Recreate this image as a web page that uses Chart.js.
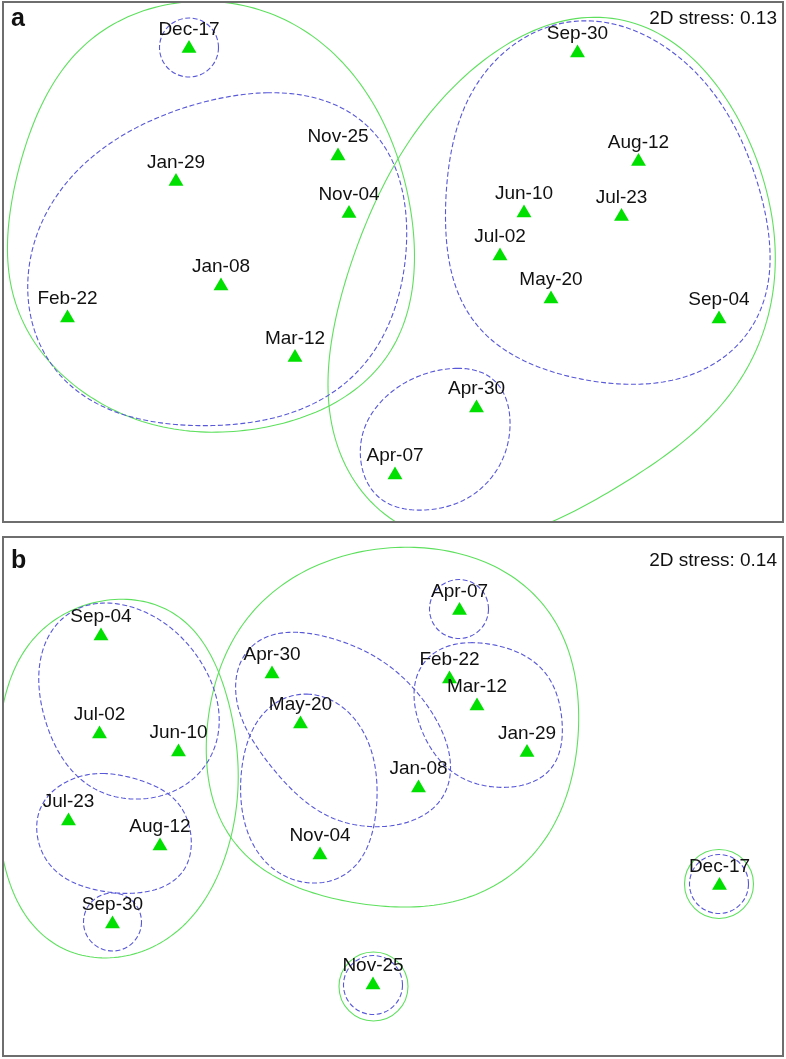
<!DOCTYPE html>
<html>
<head>
<meta charset="utf-8">
<script src="https://cdn.jsdelivr.net/npm/chart.js@4.4.1/dist/chart.umd.min.js"></script>
<style>
    html, body { margin: 0; padding: 0; background: #fff; }
    body { width: 786px; height: 1059px; position: relative; overflow: hidden; }
    .panel { position: absolute; left: 2px; width: 782px; border: 2px solid #6e6e6e; box-sizing: border-box; }
    #panelA { top: 1px; height: 522px; }
    #panelB { top: 536px; height: 521px; }
    .panel canvas { display: block; }
</style>
</head>
<body>
<div class="panel" id="panelA"><canvas id="chartA" width="778" height="518"></canvas></div>
<div class="panel" id="panelB"><canvas id="chartB" width="778" height="517"></canvas></div>
<script>
// MDS ordination of sampling dates, two panels (a, b)
// - points: sampling dates
// - overlays: cluster contours (green solid = lower similarity, blue dashed = higher)

const dates = ['Nov-04','Nov-25','Dec-17','Jan-08','Jan-29','Feb-22','Mar-12','Apr-07',
               'Apr-30','May-20','Jun-10','Jul-02','Jul-23','Aug-12','Sep-04','Sep-30'];

// panel a coordinates (same order as dates)
const xA = [349, 338, 189, 221, 176, 67.5, 295, 395, 476.5, 551, 524, 500, 621.5, 638.5, 719, 577.5];
const yA = [213.5, 156, 48.5, 286, 181.5, 318, 357.5, 475, 408, 299, 213, 256, 216.5, 161.5, 319, 53];

// panel b coordinates
const xB = [320, 373, 719.5, 418.5, 527, 449.5, 477, 459.5, 272, 300.5, 178.5, 99.5, 68.5, 160, 101, 112.5];
const yB = [855, 985, 885.5, 788, 752.5, 679, 706, 610.5, 674, 724, 752, 734, 821, 846, 636, 924];

// axis ranges of each panel
const rangeA = { xMin: 4, xMax: 782, yMin: 3, yMax: 521 };
const rangeB = { xMin: 4, xMax: 782, yMin: 538, yMax: 1055 };

const stressA = '2D stress: 0.13';
const stressB = '2D stress: 0.14';

// cluster outlines, panel a
const greenA = [
    [[133,13],[200,1],[260,7],[310,33],[363,83],[388,133],[408,190],[415,235],[411,290],[400,343],[367,383],[300,418],[245,432],[200,434],[150,425],[100,402],[50,367],[20,317],[6,260],[8,210],[22,160],[40,110],[62,67],[95,33]],
    [[587,15],[653,27],[703,67],[743,127],[767,187],[777,253],[775,293],[763,333],[737,383],[697,433],[637,477],[553,521],[480,545],[420,535],[395,522],[367,497],[340,463],[330,413],[328,380],[333,333],[348,267],[377,200],[400,150],[453,87],[503,47],[547,23]]
];
const blueA = [
    [[267,92],[300,95],[333,103],[367,123],[390,153],[403,193],[407,230],[405,267],[393,317],[370,360],[333,393],[283,417],[233,425],[200,426],[150,422],[100,407],[60,377],[37,340],[27,300],[28,267],[43,217],[73,173],[110,143],[157,117],[207,100]],
    [[597,20],[637,30],[680,57],[720,100],[750,157],[767,217],[770,267],[763,307],[747,337],[720,360],[687,377],[647,385],[603,383],[553,373],[510,353],[477,330],[457,293],[447,243],[445,197],[450,150],[467,100],[497,57],[537,30],[567,22]],
    [[457,368],[487,373],[503,390],[511,420],[507,450],[493,477],[467,500],[433,510],[407,510],[380,500],[367,483],[360,460],[362,433],[373,410],[397,387],[427,372]]
];
const greenRingsA = [];
const blueRingsA = [[189, 47.5, 29.5]];

// cluster outlines, panel b
const greenB = [
    [[110,598],[150,603],[187,620],[208,647],[224,690],[236,735],[240,777],[233,827],[220,873],[197,913],[167,940],[127,957],[93,958],[57,947],[27,920],[8,880],[-2,830],[-5,780],[0,730],[5,693],[20,653],[50,623],[80,607]],
    [[380,546],[430,549],[480,558],[530,588],[557,623],[573,667],[580,707],[577,757],[563,807],[540,847],[507,880],[463,900],[413,908],[365,905],[310,893],[265,870],[240,853],[217,815],[206,770],[208,730],[213,690],[226,650],[250,612],[285,583],[330,560]]
];
const blueB = [
    [[100,602],[133,607],[167,623],[193,650],[213,683],[220,717],[215,750],[197,777],[167,795],[133,800],[100,793],[73,773],[53,743],[42,710],[38,677],[43,647],[57,623],[77,608]],
    [[103,772],[140,780],[170,793],[187,817],[192,840],[187,867],[170,885],[140,893],[107,893],[73,883],[50,867],[37,840],[38,810],[53,790],[77,777]],
    [[300,632],[340,640],[377,657],[410,683],[433,713],[448,747],[452,777],[440,803],[410,823],[373,827],[343,823],[310,807],[277,773],[250,740],[237,703],[237,667],[253,643],[277,633]],
    [[307,693],[333,700],[357,720],[373,753],[378,793],[373,833],[357,867],[330,882],[307,883],[280,875],[257,853],[243,820],[240,780],[247,740],[263,713],[283,698]],
    [[470,642],[507,647],[537,663],[557,690],[563,730],[558,760],[540,780],[507,788],[477,785],[453,773],[433,753],[420,727],[413,697],[417,673],[433,653],[450,645]]
];
const greenRingsB = [[719, 884, 34.5], [373.5, 986.5, 34.5]];
const blueRingsB = [[112.5, 922, 29], [459, 609, 29.5], [719, 884, 29.5], [373, 985, 29.5]];

const POINT_GREEN = '#00e000';
const LINE_GREEN = '#5ee05e';
const LINE_BLUE = '#5858d8';
const FONT = '"Liberation Sans", Arial, Helvetica, sans-serif';

// resample a closed outline evenly along its length
function resample(pts, n) {
    const seg = [];
    let total = 0;
    for (let i = 0; i < pts.length; i++) {
        const a = pts[i], b = pts[(i + 1) % pts.length];
        const len = Math.hypot(b.x - a.x, b.y - a.y);
        seg.push(len);
        total += len;
    }
    const out = [];
    let i = 0, acc = 0;
    for (let j = 0; j < n; j++) {
        const t = j * total / n;
        while (acc + seg[i] < t) { acc += seg[i]; i++; }
        const a = pts[i], b = pts[(i + 1) % pts.length];
        const f = seg[i] ? (t - acc) / seg[i] : 0;
        out.push({ x: a.x + (b.x - a.x) * f, y: a.y + (b.y - a.y) * f });
    }
    return out;
}

// smooth the outline: keep only the low harmonics of the closed curve
function smoothLoop(ctx, pts, harmonics = 5) {
    const N = 256, s = resample(pts, N);
    const coef = [];
    for (let k = -harmonics; k <= harmonics; k++) {
        let re = 0, im = 0;
        s.forEach((p, j) => {
            const ang = -2 * Math.PI * k * j / N;
            re += p.x * Math.cos(ang) - p.y * Math.sin(ang);
            im += p.x * Math.sin(ang) + p.y * Math.cos(ang);
        });
        coef.push({ k, re: re / N, im: im / N });
    }
    const M = 240;
    ctx.beginPath();
    for (let j = 0; j <= M; j++) {
        let x = 0, y = 0;
        coef.forEach(c => {
            const ang = 2 * Math.PI * c.k * j / M;
            x += c.re * Math.cos(ang) - c.im * Math.sin(ang);
            y += c.re * Math.sin(ang) + c.im * Math.cos(ang);
        });
        if (j === 0) ctx.moveTo(x, y); else ctx.lineTo(x, y);
    }
    ctx.closePath();
    ctx.stroke();
}

function makeOverlay(p) {
    return {
        id: 'overlay' + p.letter,
        beforeDatasetsDraw(chart) {
            const { ctx, chartArea: a, scales: { x, y } } = chart;
            const toPx = q => ({ x: x.getPixelForValue(q[0]), y: y.getPixelForValue(q[1]) });
            const ring = r => {
                const c = toPx(r);
                const rad = x.getPixelForValue(r[0] + r[2]) - c.x;
                ctx.beginPath();
                ctx.arc(c.x, c.y, rad, 0, Math.PI * 2);
                ctx.stroke();
            };
            ctx.save();
            ctx.beginPath();
            ctx.rect(a.left, a.top, a.right - a.left, a.bottom - a.top);
            ctx.clip();
            ctx.lineWidth = 1.1;
            ctx.strokeStyle = LINE_GREEN;
            ctx.setLineDash([]);
            p.green.forEach(c => smoothLoop(ctx, c.map(toPx)));
            p.greenRings.forEach(ring);
            ctx.strokeStyle = LINE_BLUE;
            ctx.setLineDash([5, 2.5]);
            p.blue.forEach(c => smoothLoop(ctx, c.map(toPx)));
            p.blueRings.forEach(ring);
            ctx.restore();
        },
        afterDatasetsDraw(chart) {
            const ctx = chart.ctx;
            const meta = chart.getDatasetMeta(0);
            ctx.save();
            ctx.fillStyle = '#111';
            ctx.font = '19px ' + FONT;
            ctx.textAlign = 'center';
            ctx.textBaseline = 'alphabetic';
            meta.data.forEach((el, i) => ctx.fillText(dates[i], el.x, el.y - 14));
            // panel letter + stress value
            ctx.font = 'bold 25px ' + FONT;
            ctx.textAlign = 'left';
            ctx.fillText(p.letter, 7, p.letterY);
            ctx.font = '19px ' + FONT;
            ctx.textAlign = 'right';
            ctx.fillText(p.stress, 773, p.stressY);
            ctx.restore();
        }
    };
}

function makeChart(id, xs, ys, range, p) {
    return new Chart(document.getElementById(id), {
        type: 'scatter',
        data: {
            datasets: [{
                data: xs.map((v, i) => ({ x: v, y: ys[i] })),
                pointStyle: 'triangle',
                pointRadius: 8.6,
                pointHoverRadius: 8.6,
                pointBackgroundColor: POINT_GREEN,
                pointBorderWidth: 0,
                showLine: false
            }]
        },
        options: {
            responsive: false,
            animation: false,
            devicePixelRatio: 1,
            layout: { padding: 0, autoPadding: false },
            events: [],
            plugins: { legend: { display: false }, tooltip: { enabled: false } },
            scales: {
                x: { type: 'linear', min: range.xMin, max: range.xMax, display: false },
                y: { type: 'linear', min: range.yMin, max: range.yMax, reverse: true, display: false }
            }
        },
        plugins: [makeOverlay(p)]
    });
}

makeChart('chartA', xA, yA, rangeA, {
    letter: 'a', stress: stressA, letterY: 23, stressY: 21,
    green: greenA, blue: blueA, greenRings: greenRingsA, blueRings: blueRingsA
});
makeChart('chartB', xB, yB, rangeB, {
    letter: 'b', stress: stressB, letterY: 30, stressY: 27.5,
    green: greenB, blue: blueB, greenRings: greenRingsB, blueRings: blueRingsB
});
</script>
</body>
</html>
